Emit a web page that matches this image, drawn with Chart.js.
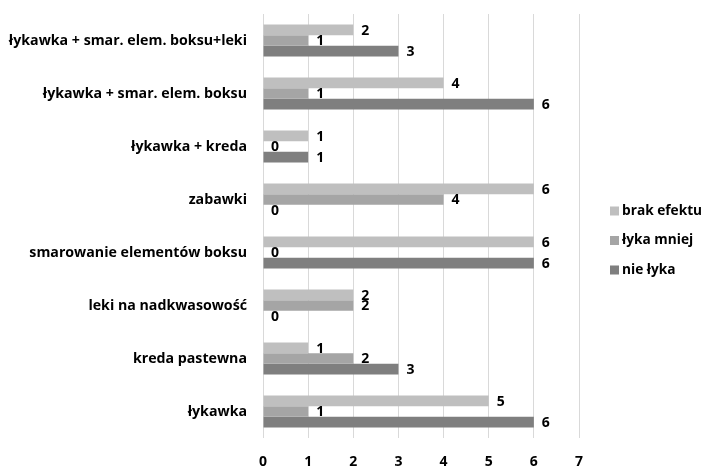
<!DOCTYPE html>
<html>
<head>
<meta charset="utf-8">
<script src="https://cdn.jsdelivr.net/npm/chart.js@4.4.1/dist/chart.umd.min.js"></script>
<style>
  html, body { margin: 0; padding: 0; background: #ffffff; }
  #wrap { width: 705px; height: 469px; position: relative; }
</style>
</head>
<body>
<div id="wrap"><canvas id="c" width="705" height="469"></canvas></div>
<script>
const categories = [
  'łykawka + smar. elem. boksu+leki',
  'łykawka + smar. elem. boksu',
  'łykawka + kreda',
  'zabawki',
  'smarowanie elementów boksu',
  'leki na nadkwasowość',
  'kreda pastewna',
  'łykawka'
];
const seriesNames = ['brak efektu', 'łyka mniej', 'nie łyka'];
const brakEfektu = [2, 4, 1, 6, 6, 2, 1, 5];
const lykaMniej  = [1, 1, 0, 4, 0, 2, 2, 1];
const nieLyka    = [3, 6, 1, 0, 6, 0, 3, 6];
const xTicks = [0, 1, 2, 3, 4, 5, 6, 7];

const colors = ['#bfbfbf', '#a5a5a5', '#7f7f7f'];
const FONT = '"Open Sans", sans-serif';

// value labels at the end of every bar
const valueLabels = {
  id: 'valueLabels',
  afterDatasetsDraw(chart) {
    const ctx = chart.ctx;
    ctx.save();
    ctx.font = 'bold 14px ' + FONT;
    ctx.fillStyle = '#000000';
    ctx.textAlign = 'left';
    ctx.textBaseline = 'middle';
    chart.data.datasets.forEach((ds, di) => {
      const meta = chart.getDatasetMeta(di);
      meta.data.forEach((bar, i) => {
        ctx.fillText(String(ds.data[i]), bar.x + 8, bar.y + 1);
      });
    });
    ctx.restore();
  }
};

// legend to the right of the plot
const sideLegend = {
  id: 'sideLegend',
  afterDraw(chart) {
    const ctx = chart.ctx;
    ctx.save();
    ctx.font = 'bold 13.7px ' + FONT;
    ctx.textAlign = 'left';
    ctx.textBaseline = 'middle';
    const x0 = 610, y0 = 211, gap = 29.5;
    chart.data.datasets.forEach((ds, i) => {
      const y = y0 + i * gap;
      ctx.fillStyle = ds.backgroundColor;
      ctx.fillRect(x0, y - 4.5, 9, 9);
      ctx.fillStyle = '#000000';
      ctx.fillText(ds.label, x0 + 12, y);
    });
    ctx.restore();
  }
};

new Chart(document.getElementById('c'), {
  type: 'bar',
  data: {
    labels: categories,
    datasets: [
      { label: seriesNames[0], data: brakEfektu, backgroundColor: colors[0] },
      { label: seriesNames[1], data: lykaMniej,  backgroundColor: colors[1] },
      { label: seriesNames[2], data: nieLyka,    backgroundColor: colors[2] }
    ]
  },
  options: {
    indexAxis: 'y',
    responsive: false,
    animation: false,
    layout: { padding: { top: 14, right: 126, bottom: 0, left: 0 } },
    datasets: {
      bar: { categoryPercentage: 0.6, barPercentage: 1.0, borderWidth: 0 }
    },
    plugins: {
      legend: { display: false },
      tooltip: { enabled: false }
    },
    scales: {
      x: {
        min: 0,
        max: 7,
        afterBuildTicks(scale) { scale.ticks = xTicks.map(v => ({ value: v })); },
        afterFit(scale) {
          scale.height = 31;
          scale.paddingLeft = 0;
          scale.paddingRight = 0;
        },
        grid: { color: '#d9d9d9', lineWidth: 1, drawTicks: false },
        border: { display: false },
        ticks: {
          padding: 16,
          color: '#000000',
          font: { family: FONT, size: 14, weight: 'bold' }
        }
      },
      y: {
        afterFit(scale) {
          scale.width = 263;
          scale.paddingTop = 0;
          scale.paddingBottom = 0;
        },
        grid: { display: false, drawTicks: false },
        border: { display: false },
        ticks: {
          padding: 16,
          color: '#000000',
          font: { family: FONT, size: 14.2, weight: 'bold' }
        }
      }
    }
  },
  plugins: [valueLabels, sideLegend]
});
</script>
</body>
</html>
